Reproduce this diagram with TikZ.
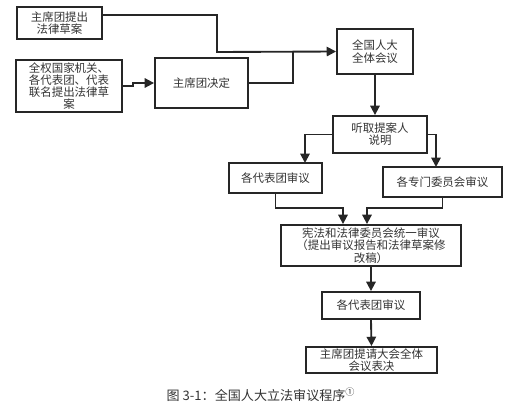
\documentclass[tikz,border=0pt]{standalone}
\usepackage{fontspec}
\setmainfont{Noto Sans CJK SC}
\usetikzlibrary{arrows.meta,calc}
\definecolor{ink}{HTML}{262626}
\definecolor{txt}{HTML}{333333}
\begin{document}
\begin{tikzpicture}[x=0.75pt,y=-0.75pt,
  box/.style={draw=ink,line width=1.4pt,align=center,text=txt,inner sep=1pt,
    font=\fontsize{8.6}{9.2}\selectfont},
  link/.style={draw=ink,line width=1.4pt},
  arr/.style={link,-{Triangle[length=7pt,width=7pt]}}]
\useasboundingbox (0,0) rectangle (512,418);
\node[box,minimum width=63.75pt,minimum height=24pt] (b1) at (59.5,23) {主席团提出\\法律草案};
\node[box,minimum width=79.5pt,minimum height=39pt] (b2) at (69,86) {全权国家机关、\\各代表团、代表\\联名提出法律草\\案};
\node[box,minimum width=69.75pt,minimum height=37.5pt] (b3) at (201.5,83) {主席团决定};
\node[box,minimum width=57pt,minimum height=33.75pt] (b4) at (375,51.5) {全国人大\\全体会议};
\node[box,minimum width=70.5pt,minimum height=27.75pt] (b5) at (380,134.5) {听取提案人\\说明};
\node[box,minimum width=69.75pt,minimum height=22.5pt] (b6) at (275.5,178) {各代表团审议};
\node[box,minimum width=89.25pt,minimum height=22.5pt] (b7) at (442.5,182) {各专门委员会审议};
\node[box,minimum width=135pt,minimum height=30.75pt] (b8) at (371,245.5) {宪法和法律委员会统一审议\\（提出审议报告和法律草案修\\改稿）};
\node[box,minimum width=73.5pt,minimum height=20.25pt] (b9) at (371,305.5) {各代表团审议};
\node[box,minimum width=98.25pt,minimum height=19.5pt] (b10) at (371.5,360) {主席团提请大会全体\\会议表决};
\node[text=txt,font=\fontsize{9.8}{11}\selectfont] (cap) at (261,395) {图 3-1：全国人大立法审议程序\textsuperscript{①}};
\coordinate (y15) at (0,15);
\coordinate (k1) at (217,52);
\coordinate (j1) at (293,52);
\coordinate (a6) at (305,163);
\coordinate (a7) at (436,167);
\coordinate (m1) at (343,208);
\coordinate (m2) at (367,208);
\draw[arr] (b1.east |- y15) -| (k1) -- (b4.west);
\draw[link] (b3.east) -| (j1);
\draw[arr] (b2.east) -- ++(10,0) |- (b3.west);
\draw[arr] (b4.south) -- (b4.south |- b5.north);
\draw[arr] (b5.west) -| (a6);
\draw[arr] (b5.east) -| (a7);
\draw[arr] (b6.south) |- (m1) -- (m1 |- b8.north);
\draw[arr] (b7.south) |- (m2) -- (m2 |- b8.north);
\draw[arr] (b8.south) -- (b9.north);
\draw[arr] (b9.south) -- (b10.north);
\end{tikzpicture}
\end{document}
